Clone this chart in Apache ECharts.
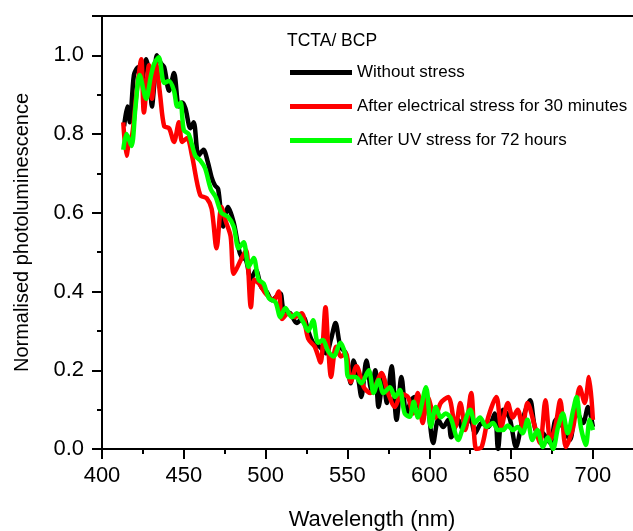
<!DOCTYPE html>
<html>
<head>
<meta charset="utf-8">
<script src="https://cdn.jsdelivr.net/npm/echarts@6/dist/echarts.min.js"></script>
<style>html,body{margin:0;padding:0;background:#fff;}#c{width:633px;height:531px;}</style>
</head>
<body>
<div id="c"></div>
<script>
const seriesNames = ['Without stress', 'After electrical stress for 30 minutes', 'After UV stress for 72 hours'];
const xTicks = [400, 450, 500, 550, 600, 650, 700];
const yTicks = [0.0, 0.2, 0.4, 0.6, 0.8, 1.0];

const withoutStress = [
[413.5,0.82],[415.5,0.87],[417,0.83],[419.5,0.95],[422,0.97],[424,0.93],[427,0.99],[429,0.95],[430.5,0.87],[432,0.93],[433.5,1.0],[436,0.98],[438,0.97],[441,0.91],[444,0.955],[447,0.87],[449,0.88],[451,0.865],[454,0.815],[456,0.83],[459,0.745],[462,0.76],[464.6,0.73],[467,0.69],[469,0.67],[471,0.66],[474,0.565],[477,0.615],[480.5,0.575],[483.5,0.51],[485,0.49],[488,0.48],[491,0.43],[494,0.455],[497.5,0.41],[500.6,0.40],[503.7,0.378],[506,0.385],[509,0.395],[511,0.353],[515,0.345],[519,0.32],[523,0.335],[526,0.3],[529,0.27],[533,0.26],[537,0.243],[540,0.28],[542.7,0.32],[545.7,0.26],[549,0.243],[552,0.167],[553.7,0.225],[556.7,0.175],[558.5,0.132],[561.6,0.225],[564.6,0.15],[567,0.2],[569,0.107],[572,0.183],[574,0.117],[577,0.21],[580,0.074],[583,0.183],[586,0.09],[589,0.124],[591,0.132],[595,0.1],[598,0.124],[602.4,0.015],[605.5,0.074],[608.5,0.056],[611.6,0.074],[613.4,0.03],[617.7,0.074],[620.7,0.048],[625,0.08],[628,0.04],[632,0.066],[636,0.056],[640,0.09],[642,0.0],[645,0.1],[649,0.08],[653,0.005],[657,0.074],[661.6,0.124],[665,0.048],[669.5,0.04],[674,0.015],[677.4,0.074],[681.7,0.056],[686,0.023],[689.6,0.1],[694,0.066],[697,0.107],[700,0.056]
];
const electricalStress = [
[413,0.83],[415,0.745],[416.5,0.78],[418.5,0.8],[421,0.9],[424,0.99],[425.6,0.855],[428.7,0.975],[430.5,0.89],[433,0.98],[435.5,0.9],[438,0.82],[441,0.815],[444,0.78],[447,0.83],[449,0.78],[452,0.79],[455,0.745],[460,0.645],[464,0.637],[467,0.61],[470,0.51],[473,0.615],[475.5,0.58],[478.6,0.54],[480.5,0.445],[484.8,0.48],[488,0.505],[491,0.36],[493,0.43],[496,0.42],[500,0.395],[505,0.378],[508,0.4],[510,0.33],[514,0.345],[518,0.335],[522,0.345],[526,0.28],[530,0.26],[533.5,0.22],[536.6,0.36],[538,0.277],[540,0.183],[543,0.26],[546,0.235],[549,0.243],[552,0.17],[555.5,0.21],[560,0.157],[564,0.142],[567.7,0.167],[570.7,0.193],[575,0.14],[579,0.107],[583,0.14],[587,0.132],[590,0.09],[593,0.142],[596,0.066],[599,0.132],[603.6,0.08],[607,0.117],[611.6,0.132],[616,0.056],[619,0.117],[622,0.048],[625.6,0.142],[628.7,0.0],[632,0.005],[636,0.08],[641,0.132],[644,0.056],[648,0.117],[651,0.08],[654,0.1],[657,0.056],[660,0.117],[664.6,0.056],[667.7,0.015],[671,0.124],[674,0.023],[677,0.056],[680,0.124],[683.5,0.005],[688,0.056],[692,0.157],[695,0.117],[697.6,0.183],[700,0.074]
];
const uvStress = [
[413,0.76],[415,0.8],[418,0.77],[420.5,0.87],[423,0.95],[427,0.89],[430,0.95],[432,0.98],[434.7,0.995],[438,0.93],[441,0.935],[444,0.91],[446,0.87],[448,0.88],[450,0.81],[453,0.8],[457,0.745],[460,0.733],[463,0.713],[466.5,0.66],[469.5,0.64],[473,0.6],[477,0.59],[480.5,0.565],[483.5,0.51],[486.6,0.525],[489.6,0.463],[492.7,0.485],[495.7,0.43],[498.8,0.42],[502,0.383],[506,0.373],[509,0.335],[512,0.358],[516,0.335],[519,0.345],[523,0.322],[526,0.3],[529,0.327],[532,0.27],[535,0.277],[538,0.25],[541.5,0.235],[545.7,0.27],[549,0.235],[550.6,0.183],[555,0.183],[558.5,0.167],[563,0.2],[566,0.142],[569,0.175],[572,0.142],[576,0.157],[579,0.132],[582,0.15],[585,0.09],[588,0.082],[590.5,0.12],[593,0.08],[598,0.157],[601,0.056],[604,0.107],[607,0.08],[610,0.09],[613,0.08],[617.7,0.023],[620.7,0.056],[625,0.1],[628,0.066],[631,0.08],[635,0.056],[639,0.066],[642,0.048],[645,0.048],[648,0.06],[651,0.048],[654,0.056],[657,0.04],[660,0.074],[663,0.023],[666,0.048],[669.5,0.005],[672.4,0.03],[675.6,0.0],[678.7,0.056],[681.6,0.09],[684.6,0.04],[688,0.1],[690,0.132],[692.6,0.056],[695.7,0.01],[698,0.074],[700,0.048]
];

const FONT = '"Liberation Sans", Arial, sans-serif';
const chart = echarts.init(document.getElementById('c'), null, {renderer: 'canvas'});
const mk = (name, data, color) => ({
  name, type: 'line', data, showSymbol: false, symbol: 'none', smooth: 0.3,
  lineStyle: {color, width: 4.5}, itemStyle: {color}, z: 3
});
chart.setOption({
  animation: false,
  backgroundColor: '#fff',
  title: {text: 'TCTA/ BCP', left: 287, top: 32, padding: 0, textStyle: {fontFamily: FONT, fontSize: 17.5, fontWeight: 'normal', color: '#000'}},
  legend: {
    orient: 'vertical', left: 290, top: 64, padding: 0, itemWidth: 62, itemHeight: 5, itemGap: 17, icon: 'rect',
    textStyle: {fontFamily: FONT, fontSize: 17, color: '#000'},
    data: seriesNames
  },
  grid: {left: 102, top: 16, width: 540, height: 433, show: true, borderColor: '#000', borderWidth: 2,
    backgroundColor: 'transparent', containLabel: false, outerBoundsMode: 'none'},
  xAxis: {
    type: 'value', min: 400, max: 730, interval: 50,
    name: 'Wavelength (nm)', nameLocation: 'middle', nameGap: 60,
    nameTextStyle: {fontFamily: FONT, fontSize: 22, color: '#000'},
    axisLine: {lineStyle: {color: '#000', width: 2}},
    axisTick: {inside: false, length: 10, lineStyle: {color: '#000', width: 2}},
    minorTick: {show: true, splitNumber: 2, length: 5, lineStyle: {color: '#000', width: 2}},
    axisLabel: {fontFamily: FONT, fontSize: 22, color: '#000', margin: 16, showMaxLabel: false,
      formatter: v => xTicks.includes(v) ? String(v) : ''},
    splitLine: {show: false}
  },
  yAxis: {
    type: 'value', min: 0, max: 1.1, interval: 0.2,
    name: 'Normalised photoluminescence', nameLocation: 'middle', nameGap: 70,
    nameTextStyle: {fontFamily: FONT, fontSize: 20, color: '#000'},
    axisLine: {show: true, lineStyle: {color: '#000', width: 2}},
    axisTick: {show: true, inside: false, length: 10, lineStyle: {color: '#000', width: 2}},
    minorTick: {show: true, splitNumber: 2, length: 5, lineStyle: {color: '#000', width: 2}},
    axisLabel: {fontFamily: FONT, fontSize: 22, color: '#000', margin: 18, showMaxLabel: false,
      formatter: v => yTicks.some(t => Math.abs(t - v) < 1e-9) ? v.toFixed(1) : ''},
    splitLine: {show: false}
  },
  series: [
    mk(seriesNames[0], withoutStress, '#000000'),
    mk(seriesNames[1], electricalStress, '#ff0000'),
    mk(seriesNames[2], uvStress, '#00ff00')
  ]
});
</script>
</body>
</html>
